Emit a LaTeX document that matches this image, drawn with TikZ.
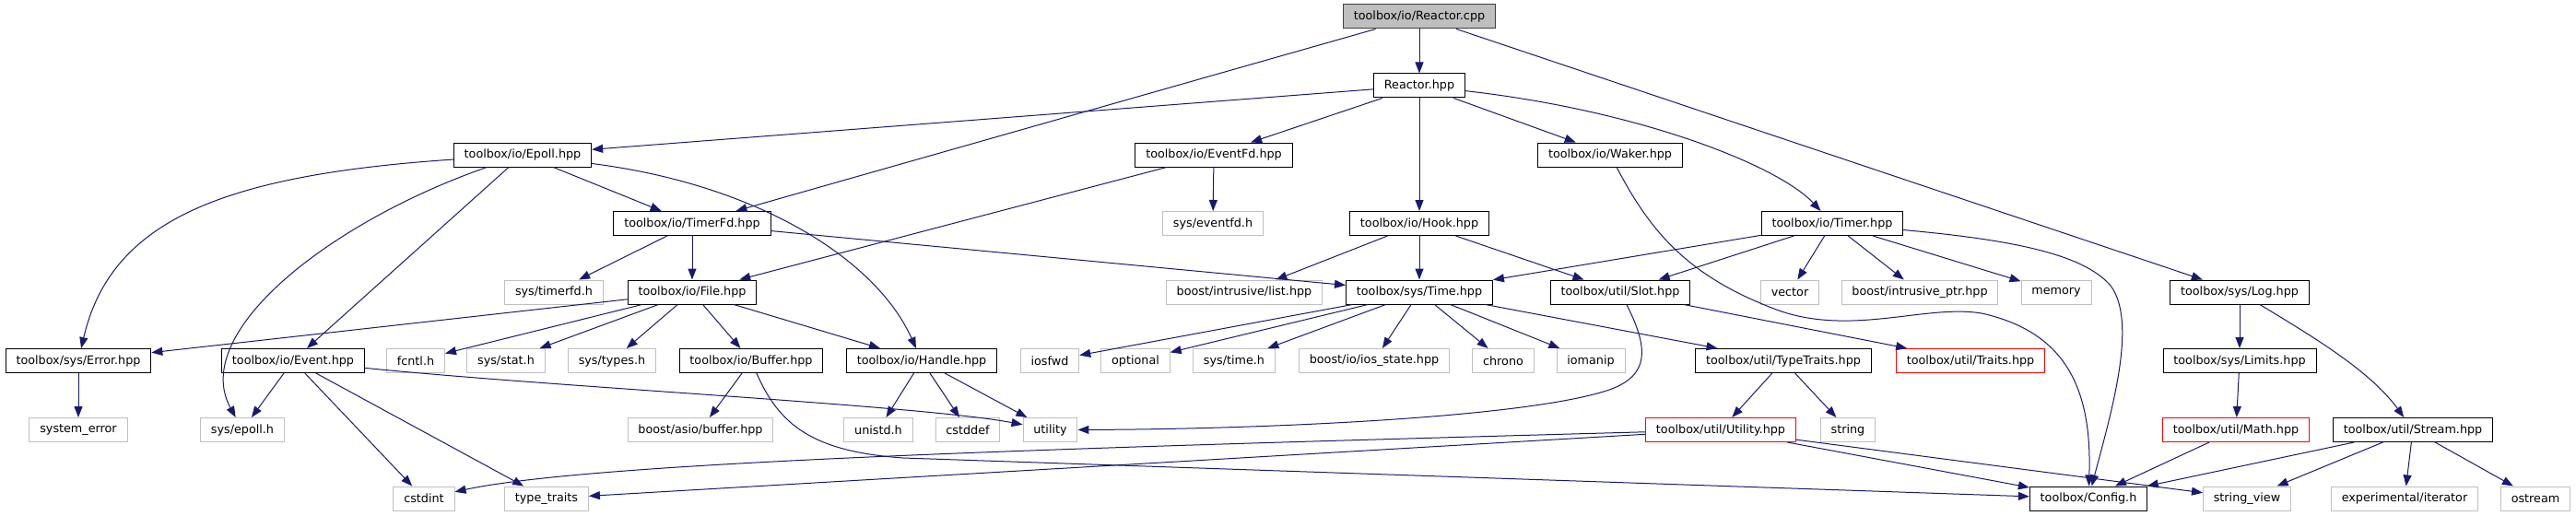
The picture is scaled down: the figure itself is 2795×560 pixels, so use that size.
\documentclass[tikz,border=0pt]{standalone}
\usepackage{fontspec}
\setmainfont{DejaVu Sans}
\usetikzlibrary{arrows.meta}
\definecolor{edgeblue}{HTML}{191970}
\definecolor{extgrey}{HTML}{BFBFBF}

\begin{document}
\begin{tikzpicture}[
  x=0.75pt, y=-0.75pt,
  hdr/.style={rectangle, draw=#1, fill=white, text=black, minimum height=19.5pt, inner xsep=8.5pt, inner ysep=0pt, font=\fontsize{9.57}{11}\selectfont, line width=0.75pt},
  hdr/.default=black,
  ext/.style={hdr=extgrey},
  trunc/.style={hdr=red},
  srcfile/.style={hdr=black!75, fill=extgrey},
  arrow/.style={-{Triangle[length=9pt, width=6.75pt]}, line width=0.75pt, draw=edgeblue},
]
  \useasboundingbox (0,0) rectangle (2795,560);

  \node[srcfile] (rcpp) at (1540,18) {toolbox/io/Reactor.cpp};
  \node[hdr] (rhpp) at (1540,93) {Reactor.hpp};

  \node[hdr] (epoll) at (567,168) {toolbox/io/Epoll.hpp};
  \node[hdr] (eventfd) at (1317,168) {toolbox/io/EventFd.hpp};
  \node[hdr] (waker) at (1747,168) {toolbox/io/Waker.hpp};

  \node[hdr] (timerfd) at (751,242.5) {toolbox/io/TimerFd.hpp};
  \node[ext] (seventfd) at (1316,242.5) {sys/eventfd.h};
  \node[hdr] (hook) at (1540,242.5) {toolbox/io/Hook.hpp};
  \node[hdr] (timer) at (1988,242.5) {toolbox/io/Timer.hpp};

  \node[ext] (stimerfd) at (601,317) {sys/timerfd.h};
  \node[hdr] (file) at (751,317) {toolbox/io/File.hpp};
  \node[ext] (blist) at (1350,317) {boost/intrusive/list.hpp};
  \node[hdr] (time) at (1540,317) {toolbox/sys/Time.hpp};
  \node[hdr] (slot) at (1758,317) {toolbox/util/Slot.hpp};
  \node[ext] (vector) at (1942,317) {vector};
  \node[ext] (bptr) at (2083,317) {boost/intrusive\_ptr.hpp};
  \node[ext] (memory) at (2231,317) {memory};
  \node[hdr] (log) at (2430,317) {toolbox/sys/Log.hpp};

  \node[hdr] (error) at (85,391.5) {toolbox/sys/Error.hpp};
  \node[hdr] (event) at (318,391.5) {toolbox/io/Event.hpp};
  \node[ext] (fcntl) at (451,391.5) {fcntl.h};
  \node[ext] (sstat) at (549,391.5) {sys/stat.h};
  \node[ext] (stypes) at (664,391.5) {sys/types.h};
  \node[hdr] (buffer) at (815,391.5) {toolbox/io/Buffer.hpp};
  \node[hdr] (handle) at (1000,391.5) {toolbox/io/Handle.hpp};
  \node[ext] (iosfwd) at (1139,391.5) {iosfwd};
  \node[ext] (optional) at (1232,391.5) {optional};
  \node[ext] (stime) at (1339,391.5) {sys/time.h};
  \node[ext] (iosstate) at (1491,391.5) {boost/io/ios\_state.hpp};
  \node[ext] (chrono) at (1631,391.5) {chrono};
  \node[ext] (iomanip) at (1726,391.5) {iomanip};
  \node[hdr] (typetraits) at (1935,391.5) {toolbox/util/TypeTraits.hpp};
  \node[trunc] (traits) at (2138,391.5) {toolbox/util/Traits.hpp};
  \node[hdr] (limits) at (2430,391.5) {toolbox/sys/Limits.hpp};

  \node[ext] (syserror) at (85,466.5) {system\_error};
  \node[ext] (sepoll) at (263,466.5) {sys/epoll.h};
  \node[ext] (abuffer) at (760,466.5) {boost/asio/buffer.hpp};
  \node[ext] (unistd) at (953,466.5) {unistd.h};
  \node[ext] (cstddef) at (1050,466.5) {cstddef};
  \node[ext] (utility) at (1139.5,466.5) {utility};
  \node[trunc] (utilhpp) at (1867,466.5) {toolbox/util/Utility.hpp};
  \node[ext] (string) at (2005,466.5) {string};
  \node[trunc] (math) at (2426,466.5) {toolbox/util/Math.hpp};
  \node[hdr] (stream) at (2618,466.5) {toolbox/util/Stream.hpp};

  \node[ext] (cstdint) at (460,541) {cstdint};
  \node[ext] (ttraits) at (593,541) {type\_traits};
  \node[hdr] (config) at (2266,541) {toolbox/Config.h};
  \node[ext] (sview) at (2438,541) {string\_view};
  \node[ext] (expiter) at (2609,541) {experimental/iterator};
  \node[ext] (ostream) at (2751,541) {ostream};

  \draw[arrow] (rcpp) -- (rhpp);
  \draw[arrow] (rcpp) -- (timerfd);
  \draw[arrow] (rcpp) -- (log);

  \draw[arrow] (rhpp) -- (epoll);
  \draw[arrow] (rhpp) -- (eventfd);
  \draw[arrow] (rhpp) -- (hook);
  \draw[arrow] (rhpp) -- (waker);
  \draw[arrow] (rhpp) .. controls (1780,120) and (1930,180) .. (timer);

  \draw[arrow] (epoll) .. controls (240,190) and (120,240) .. (error);
  \draw[arrow] (epoll) .. controls (360,240) and (205,360) .. (sepoll);
  \draw[arrow] (epoll) -- (event);
  \draw[arrow] (epoll) -- (timerfd);
  \draw[arrow] (epoll) .. controls (820,200) and (950,280) .. (handle);

  \draw[arrow] (eventfd) -- (seventfd);
  \draw[arrow] (eventfd) -- (file);
  \draw[arrow] (waker) .. controls (1790,250) and (1830,300) .. (1930,337)
    .. controls (2010,365) and (2090,330) .. (2150,340)
    .. controls (2240,360) and (2270,420) .. (config);

  \draw[arrow] (timerfd) -- (stimerfd);
  \draw[arrow] (timerfd) -- (file);
  \draw[arrow] (timerfd) -- (time);

  \draw[arrow] (hook) -- (blist);
  \draw[arrow] (hook) -- (time);
  \draw[arrow] (hook) -- (slot);

  \draw[arrow] (timer) -- (time);
  \draw[arrow] (timer) -- (slot);
  \draw[arrow] (timer) -- (vector);
  \draw[arrow] (timer) -- (bptr);
  \draw[arrow] (timer) -- (memory);
  \draw[arrow] (timer) .. controls (2180,260) and (2260,275) .. (2290,310)
    .. controls (2320,350) and (2290,450) .. (config);

  \draw[arrow] (file) -- (error);
  \draw[arrow] (file) -- (fcntl);
  \draw[arrow] (file) -- (sstat);
  \draw[arrow] (file) -- (stypes);
  \draw[arrow] (file) -- (buffer);
  \draw[arrow] (file) -- (handle);

  \draw[arrow] (time) -- (iosfwd);
  \draw[arrow] (time) -- (optional);
  \draw[arrow] (time) -- (stime);
  \draw[arrow] (time) -- (iosstate);
  \draw[arrow] (time) -- (chrono);
  \draw[arrow] (time) -- (iomanip);
  \draw[arrow] (time) -- (typetraits);

  \draw[arrow] (slot) .. controls (1790,380) and (1790,410) .. (1740,425)
    .. controls (1640,455) and (1350,466) .. (utility);
  \draw[arrow] (slot) -- (traits);

  \draw[arrow] (log) -- (limits);
  \draw[arrow] (log) .. controls (2500,360) and (2570,400) .. (stream);

  \draw[arrow] (error) -- (syserror);

  \draw[arrow] (event) -- (sepoll);
  \draw[arrow] (event) .. controls (600,420) and (1000,440) .. (utility);
  \draw[arrow] (event) -- (cstdint);
  \draw[arrow] (event) -- (ttraits);

  \draw[arrow] (buffer) -- (abuffer);
  \draw[arrow] (buffer) .. controls (845,460) and (880,490) .. (980,497) -- (config);

  \draw[arrow] (handle) -- (unistd);
  \draw[arrow] (handle) -- (cstddef);
  \draw[arrow] (handle) -- (utility);

  \draw[arrow] (typetraits) -- (utilhpp);
  \draw[arrow] (typetraits) -- (string);

  \draw[arrow] (limits) -- (math);

  \draw[arrow] (utilhpp) .. controls (1200,485) and (650,500) .. (cstdint);
  \draw[arrow] (utilhpp) -- (ttraits);
  \draw[arrow] (utilhpp) -- (config);
  \draw[arrow] (utilhpp) -- (sview);

  \draw[arrow] (math) -- (config);

  \draw[arrow] (stream) -- (config);
  \draw[arrow] (stream) -- (sview);
  \draw[arrow] (stream) -- (expiter);
  \draw[arrow] (stream) -- (ostream);
\end{tikzpicture}
\end{document}
